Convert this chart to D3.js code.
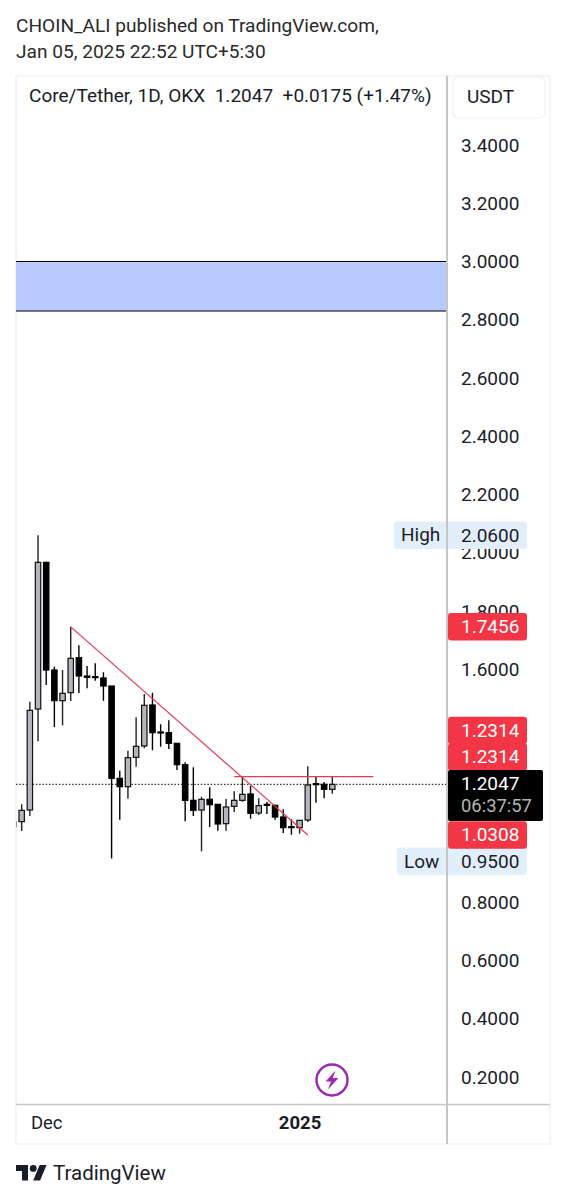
<!DOCTYPE html>
<html><head><meta charset="utf-8">
<script src="https://cdn.jsdelivr.net/npm/d3@7"></script>
<style>html,body{margin:0;padding:0;background:#fff}svg{display:block}text{font-family:Roboto,sans-serif}</style>
</head><body><div id="c"></div>
<script>
const dates=["2024-11-27","2024-11-28","2024-11-29","2024-11-30","2024-12-01","2024-12-02","2024-12-03","2024-12-04","2024-12-05","2024-12-06","2024-12-07","2024-12-08","2024-12-09","2024-12-10","2024-12-11","2024-12-12","2024-12-13","2024-12-14","2024-12-15","2024-12-16","2024-12-17","2024-12-18","2024-12-19","2024-12-20","2024-12-21","2024-12-22","2024-12-23","2024-12-24","2024-12-25","2024-12-26","2024-12-27","2024-12-28","2024-12-29","2024-12-30","2024-12-31","2025-01-01","2025-01-02","2025-01-03","2025-01-04","2025-01-05"];
// one row per session, oldest first; the first session is cut by the chart's left edge
const opens =[1.0594,1.0767,1.1167,1.4635,1.9671,1.5974,1.4921,1.5196,1.6398,1.5768,1.5745,1.5700,1.5425,1.2255,1.1969,1.2976,1.3365,1.4773,1.3846,1.3823,1.3457,1.2724,1.1499,1.1167,1.1534,1.1362,1.0698,1.1293,1.1499,1.1717,1.1064,1.1362,1.1328,1.0927,1.0595,1.0561,1.0824,1.2072,1.2049,1.1877];
const closes=[1.0767,1.1156,1.4589,1.9671,1.5974,1.4921,1.5173,1.6375,1.5768,1.5722,1.5711,1.5425,1.2255,1.1969,1.2964,1.3353,1.4761,1.3823,1.3811,1.3457,1.2724,1.1499,1.1156,1.1534,1.1350,1.0687,1.1270,1.1499,1.1705,1.1053,1.1316,1.1328,1.0927,1.0561,1.0561,1.0813,1.2026,1.2037,1.1877,1.2047];
const highs =[1.0767,1.1362,1.4887,2.0600,1.9671,1.6089,1.5974,1.7456,1.6821,1.6112,1.6203,1.5894,1.5425,1.2518,1.3205,1.4349,1.5150,1.5196,1.4109,1.4246,1.3457,1.2804,1.2632,1.1625,1.1946,1.1362,1.1545,1.1808,1.2323,1.1991,1.1568,1.1442,1.1350,1.1190,1.0847,1.0813,1.2667,1.2335,1.2129,1.2312];
const lows  =[1.0594,1.0446,1.0961,1.3525,1.5459,1.4017,1.4074,1.4910,1.5185,1.5345,1.5608,1.4921,0.9500,1.0836,1.1557,1.2655,1.3285,1.3216,1.3342,1.3262,1.2541,1.0778,1.0961,0.9748,1.0584,1.0458,1.0458,1.1099,1.1454,1.0870,1.0996,1.1030,1.0835,1.0378,1.0320,1.0355,1.0755,1.1419,1.1568,1.1728];
const yTicks=[3.4,3.2,3.0,2.8,2.6,2.4,2.2,2.0,1.8,1.6,0.8,0.6,0.4,0.2];
const xTickDates=["2024-12-01","2025-01-01"];
const xTickLabels=["Dec","2025"];
const zoneValues=[3.0,2.83];
const trendDates=["2024-12-04","2025-01-02"];
const trendValues=[1.7456,1.0308];
const levelDates=["2024-12-24","2025-01-10"];
const levelValue=1.2314;
const lastPrice=1.2047;
const redLabels=[1.7456,1.2314,1.2314,1.0308];
const redLabelShift=[0,-46,-19.5,0];
const titleLines=["CHOIN_ALI published on TradingView.com,","Jan 05, 2025 22:52 UTC+5:30"];
const legendText="Core/Tether, 1D, OKX  1.2047  +0.0175 (+1.47%)";

const W=567,H=1200,paneL=16,paneR=550,paneT=73,axisX=447,timeY=1104,paneB=1144;
const parse=d3.utcParse("%Y-%m-%d");
const x=d3.scaleUtc().domain([parse("2024-11-27"),parse("2025-01-05")]).range([13.5,332.3]);
const y=d3.scaleLinear().domain([0.2,3.4]).range([1077,145]);
const svg=d3.select("#c").append("svg").attr("width",W).attr("height",H);
svg.append("defs").append("clipPath").attr("id","pane").append("rect")
  .attr("x",paneL+0.5).attr("y",paneT).attr("width",axisX-paneL).attr("height",timeY-paneT);

const ink="#1a1d26";
svg.selectAll("text.title").data(titleLines).join("text").attr("class","title")
  .attr("x",paneL).attr("y",(d,i)=>31.5+i*26.5).attr("font-size",19.1).attr("fill","#2a2a2a").text(d=>d);

// frame
svg.append("rect").attr("x",paneL).attr("y",paneT+3).attr("width",paneR-paneL).attr("height",paneB-paneT-3)
  .attr("fill","none").attr("stroke","#eceef0").attr("stroke-width",1.2);

// zone
const zone=svg.append("g");
zone.append("rect").attr("x",paneL).attr("width",axisX-paneL).attr("y",y(zoneValues[0])).attr("height",y(zoneValues[1])-y(zoneValues[0])).attr("fill","#b9cbfe");
zone.selectAll("line").data(zoneValues).join("line").attr("x1",paneL).attr("x2",axisX)
  .attr("y1",d=>y(d)).attr("y2",d=>y(d)).attr("stroke","#000").attr("stroke-width",1.2);

// last price line
svg.append("line").attr("x1",paneL).attr("x2",axisX).attr("y1",y(lastPrice)).attr("y2",y(lastPrice))
  .attr("stroke","#333").attr("stroke-width",1.2).attr("stroke-dasharray","1.5 1.8");

// candles
const bars=dates.map((d,i)=>({date:parse(d),o:opens[i],c:closes[i],h:highs[i],l:lows[i]}));
const g=svg.append("g").attr("clip-path","url(#pane)");
const bw=5.4;
g.selectAll("line.wick").data(bars).join("line").attr("class","wick")
  .attr("x1",d=>x(d.date)).attr("x2",d=>x(d.date)).attr("y1",d=>y(d.h)).attr("y2",d=>y(d.l))
  .attr("stroke",d=>d.c>=d.o?"#222":"#000").attr("stroke-width",1.4);
g.selectAll("rect.body").data(bars).join("rect").attr("class","body")
  .attr("x",d=>x(d.date)-bw/2).attr("width",bw)
  .attr("y",d=>y(Math.max(d.o,d.c))).attr("height",d=>Math.max(0.6,Math.abs(y(d.o)-y(d.c))))
  .attr("fill",d=>d.c>=d.o?"#b5b6bd":"#000").attr("stroke",d=>d.c>=d.o?"#111":"#000").attr("stroke-width",1.2);

// drawings
const red="#e8384f";
svg.append("path").attr("clip-path","url(#pane)")
  .attr("d",d3.line()([[x(parse(trendDates[0])),y(trendValues[0])],[x(parse(trendDates[1])),y(trendValues[1])]]))
  .attr("stroke",red).attr("stroke-width",1.2).attr("fill","none");
svg.append("line").attr("x1",x(parse(levelDates[0]))).attr("x2",x(parse(levelDates[1])))
  .attr("y1",y(levelValue)).attr("y2",y(levelValue)).attr("stroke",red).attr("stroke-width",1.2);

// y axis
const yAxis=d3.axisRight(y).tickValues(yTicks).tickFormat(d3.format(".4f")).tickSize(0).tickPadding(0);
const ya=svg.append("g").attr("transform",`translate(461,-0.6)`).call(yAxis);
ya.select(".domain").remove();
ya.selectAll("text").attr("font-size",19).attr("font-family","Roboto,sans-serif").attr("fill",ink).attr("dy","0.35em");

// USDT button
svg.append("rect").attr("x",453).attr("y",77).attr("width",92).attr("height",41).attr("rx",6).attr("fill","#fff").attr("stroke","#eef0f2").attr("stroke-width",1.2);
svg.append("text").attr("x",467).attr("y",102.8).attr("font-size",19).attr("fill",ink).text("USDT");

// high/low labels
const pill=(x0,x1,cy,h,fill,r=3)=>svg.append("rect").attr("x",x0).attr("width",x1-x0).attr("y",cy-h/2).attr("height",h).attr("rx",r).attr("fill",fill);
const label=(tx,cy,t,fill,size=19)=>svg.append("text").attr("x",tx).attr("y",cy).attr("dy","0.35em").attr("font-size",size).attr("fill",fill).text(t);
pill(394,527,y(2.06),27.5,"#e3eefb");
label(401,y(2.06)-0.8,"High",ink); label(461,y(2.06),d3.format(".4f")(2.06),ink);
pill(397,527,861.3,27.5,"#e3eefb");
label(404,861,"Low",ink); label(461,861,d3.format(".4f")(0.95),ink);

// red labels
redLabels.forEach((v,i)=>{
  const cy=y(v)+redLabelShift[i];
  pill(448,527,cy,27.5,"#f23645");
  label(461,cy-0.4,d3.format(".4f")(v),"#fff");
});
// last price
svg.append("rect").attr("x",448).attr("y",770).attr("width",95).attr("height",51).attr("rx",2).attr("fill","#000");
label(461,783.5,d3.format(".4f")(lastPrice),"#fff");
label(461,806,"06:37:57","#b4b4b4",18.4);

// axis rules
svg.append("line").attr("x1",axisX).attr("x2",axisX).attr("y1",paneT+3).attr("y2",paneB).attr("stroke","#c6c6c6").attr("stroke-width",2);
svg.append("line").attr("x1",paneL).attr("x2",paneR).attr("y1",timeY+.5).attr("y2",timeY+.5).attr("stroke","#c6c6c6").attr("stroke-width",1.5);

// legend
svg.append("text").attr("x",29).attr("y",101.5).attr("font-size",19.05).attr("fill",ink).style("white-space","pre").text(legendText);

// x axis
const xAxis=d3.axisBottom(x).tickValues(xTickDates.map(parse)).tickFormat((d,i)=>xTickLabels[i]).tickSize(0).tickPadding(0);
const xa=svg.append("g").attr("transform",`translate(0,1129)`).call(xAxis);
xa.select(".domain").remove();
xa.selectAll("text").attr("font-size",18.5).attr("font-family","Roboto,sans-serif").attr("fill",ink).attr("dy",0)
  .attr("font-weight",(d,i)=>i?700:400);

// lightning marker
const bolt=svg.append("g").attr("transform","translate(332,1080)");
bolt.append("circle").attr("r",15.5).attr("fill","#fff").attr("stroke","#9c27b0").attr("stroke-width",2.4);
bolt.append("path").attr("d","M3.5,-9.5 L-6.5,1.5 L-1,1.5 L-4,9.5 L6.5,-2 L0.8,-2 Z").attr("fill","#9c27b0");

// brand
const logo=svg.append("g").attr("transform","translate(16,1161.5) scale(0.86)").attr("fill",ink);
logo.append("path").attr("d","M14 22H7V11H0V4h14v18zM28 22h-8l7.5-18h8L28 22z");
logo.append("circle").attr("cx",20).attr("cy",8).attr("r",4);
svg.append("text").attr("x",53).attr("y",1180).attr("font-size",20.5).attr("fill",ink).text("TradingView");
</script></body></html>
